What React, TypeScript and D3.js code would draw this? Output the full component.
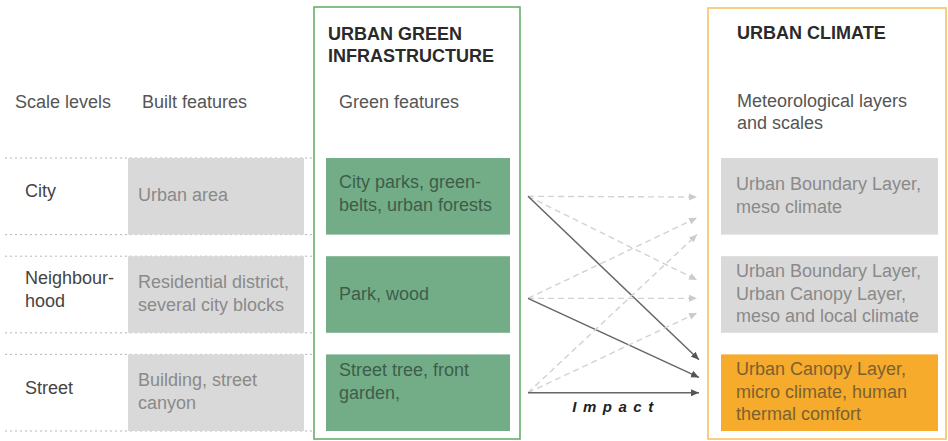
import React from "react";
import * as d3 from "d3";

// scale levels (rows) and what sits in each column
const levels = ["City", "Neighbourhood", "Street"];
const levelLabels = [["City"], ["Neighbour-", "hood"], ["Street"]];
const builtFeatures = [
	["Urban area"],
	["Residential district,", "several city blocks"],
	["Building, street", "canyon"],
];
const greenFeatures = [
	["City parks, green-", "belts, urban forests"],
	["Park, wood"],
	["Street tree, front", "garden,"],
];
const climateLayers = [
	["Urban Boundary Layer,", "meso climate"],
	["Urban Boundary Layer,", "Urban Canopy Layer,", "meso and local climate"],
	["Urban Canopy Layer,", "micro climate, human", "thermal comfort"],
];
const columnTitles = ["Scale levels", "Built features", "Green features"];
const climateTitle = ["Meteorological layers", "and scales"];
const greenHeader = ["URBAN GREEN", "INFRASTRUCTURE"];
const climateHeader = ["URBAN CLIMATE"];

// impact links green feature -> climate layer (at = where it lands in the target row)
const links = [
	{ from: "City", to: "City", at: 0.51, solid: false },
	{ from: "City", to: "Neighbourhood", at: 0.31, solid: false },
	{ from: "City", to: "Street", at: 0.07, solid: true },
	{ from: "Neighbourhood", to: "City", at: 0.78, solid: false },
	{ from: "Neighbourhood", to: "Neighbourhood", at: 0.55, solid: false },
	{ from: "Neighbourhood", to: "Street", at: 0.3, solid: true },
	{ from: "Street", to: "City", at: 1.0, solid: false },
	{ from: "Street", to: "Neighbourhood", at: 0.74, solid: false },
	{ from: "Street", to: "Street", at: 0.5, solid: true },
];

const W = 948;
const H = 441;
const FONT = "'Liberation Sans', Arial, sans-serif";
const LINE = 22.5;

const Lines: React.FC<{ x: number; cy: number; lines: string[]; fill: string; k?: number }> = ({ x, cy, lines, fill, k = 5 }) => {
	const y0 = cy - ((lines.length - 1) * LINE) / 2 + k;
	return (
		<text x={x} y={y0} fill={fill} fontSize={18} fontFamily={FONT}>
			{lines.map((l, i) => (
				<tspan key={i} x={x} y={y0 + i * LINE}>
					{l}
				</tspan>
			))}
		</text>
	);
};

export default function App() {
	const y = d3.scaleBand<string>().domain(levels).range([158, 431]).paddingInner(0.22);
	const bw = y.bandwidth();
	const mid = (l: string) => (y(l) as number) + bw / 2;

	const srcAt: Record<string, number> = { City: 0.5, Neighbourhood: 0.55, Street: 0.5 };
	const x = d3.scaleLinear().domain([0, 1]).range([528, 697]);
	const line = d3.line<[number, number]>();

	const builtX = 128, builtW = 176;
	const greenX = 326, greenW = 184;
	const climX = 721, climW = 217;

	return (
		<svg width={W} height={H} style={{ position: "absolute", left: 0, top: 0, background: "#fff" }}>
			<defs>
				<marker id="hSolid" markerUnits="userSpaceOnUse" markerWidth={9} markerHeight={8} refX={8} refY={4} orient="auto">
					<path d="M0,0.5 L8,4 L0,7.5 z" fill="#555" />
				</marker>
				<marker id="hDash" markerUnits="userSpaceOnUse" markerWidth={9} markerHeight={8} refX={8} refY={4} orient="auto">
					<path d="M0,0.5 L8,4 L0,7.5 z" fill="#cbcbcb" />
				</marker>
			</defs>

			{/* row separators */}
			{levels.map((l) => (
				<g key={l}>
					{[y(l) as number, (y(l) as number) + bw].map((yy, i) => (
						<line key={i} x1={5} x2={312} y1={yy} y2={yy} stroke="#b5b5b5" strokeDasharray="2,3" strokeWidth={1} />
					))}
				</g>
			))}

			{/* outer frames */}
			<rect x={314} y={7} width={206} height={432} fill="none" stroke="#6aae6a" strokeWidth={1.6} />
			<rect x={708} y={8} width={238} height={431} fill="none" stroke="#f5c266" strokeWidth={1.6} />

			{/* headers */}
			<text fontFamily={FONT} fontWeight="bold" fontSize={18} fill="#2a2a2a">
				{greenHeader.map((t, i) => (
					<tspan key={i} x={328} y={40 + i * 22}>{t}</tspan>
				))}
				{climateHeader.map((t, i) => (
					<tspan key={"c" + i} x={737} y={39 + i * 22}>{t}</tspan>
				))}
			</text>
			<Lines x={15} cy={108} k={0} lines={[columnTitles[0]]} fill="#555" />
			<Lines x={142} cy={108} k={0} lines={[columnTitles[1]]} fill="#555" />
			<Lines x={339} cy={108} k={0} lines={[columnTitles[2]]} fill="#555" />
			<Lines x={737} cy={118} k={0} lines={climateTitle} fill="#555" />

			{/* rows */}
			{levels.map((l, i) => (
				<g key={l}>
					<Lines x={25} cy={mid(l)} k={1} lines={levelLabels[i]} fill="#444" />
					<rect x={builtX} y={y(l)} width={builtW} height={bw} fill="#d9d9d9" />
					<Lines x={builtX + 10} cy={mid(l)} lines={builtFeatures[i]} fill="#8a8a8a" />
					<rect x={greenX} y={y(l)} width={greenW} height={bw} fill="#72ad88" />
					<Lines x={greenX + 13} cy={mid(l) - (i === 2 ? 10 : i === 0 ? 2 : 0)} lines={greenFeatures[i]} fill="#3e5d49" />
					<rect x={climX} y={y(l)} width={climW} height={bw} fill={i === 2 ? "#f6ab2c" : "#d9d9d9"} />
					<Lines x={climX + 15} cy={mid(l)} lines={climateLayers[i]} fill={i === 2 ? "#7a6230" : "#8a8a8a"} />
				</g>
			))}

			{/* impact links */}
			{links.map((d, i) => {
				const y0 = (y(d.from) as number) + bw * srcAt[d.from];
				const y1 = (y(d.to) as number) + bw * d.at;
				const horizImpact = d.solid && d.from === d.to;
				return (
					<path
						key={i}
						d={line([
							[x(0), horizImpact ? y1 : y0],
							[x(1) + (d.solid ? 2 : 0), y1],
						]) as string}
						fill="none"
						stroke={d.solid ? "#666" : "#d2d2d2"}
						strokeWidth={d.solid ? 1.5 : 1.4}
						strokeDasharray={d.solid ? undefined : "6,4"}
						markerEnd={d.solid ? "url(#hSolid)" : "url(#hDash)"}
					/>
				);
			})}
			<text x={616} y={412} textAnchor="middle" fontFamily={FONT} fontWeight="bold" fontStyle="italic" fontSize={15} letterSpacing={6.5} fill="#222">
				Impact
			</text>
		</svg>
	);
}
